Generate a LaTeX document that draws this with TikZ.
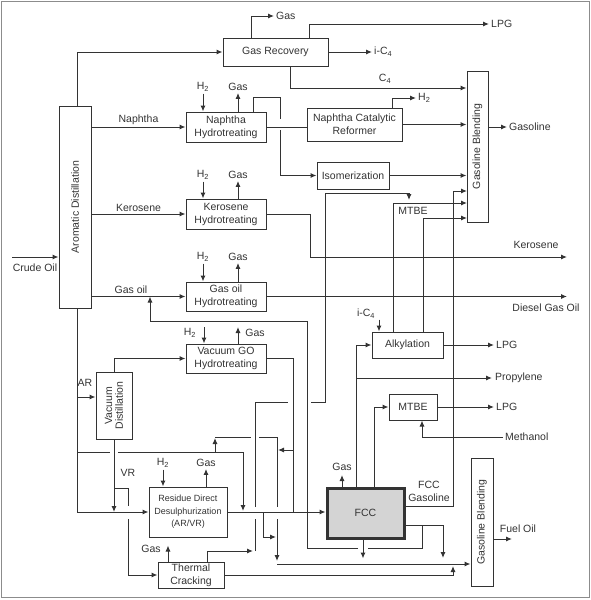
\documentclass[tikz,border=0pt]{standalone}
\usepackage{fontspec}
\setmainfont{Liberation Sans}
\usepackage{tikz}
\usetikzlibrary{arrows.meta}
\definecolor{ink}{HTML}{333333}
\definecolor{framegray}{HTML}{8C8C8C}
\definecolor{fccfill}{HTML}{D4D4D4}
\tikzset{
  unit/.style={draw=ink, line width=1pt, inner sep=1pt, align=center, text=ink},
  flow/.style={draw=ink, line width=1pt, -{Latex[length=6pt,width=5pt]}},
  pipe/.style={draw=ink, line width=1pt},
  lbl/.style={inner sep=2pt, text=ink}
}

\begin{document}
\begin{tikzpicture}[x=1pt, y=-1pt, font=\fontsize{10.5}{13}\selectfont]
        \useasboundingbox (0,0) rectangle (591,600);
        % Frame
        \draw [framegray, line width=1.4pt] (1.5,1.5) rectangle (589.5,597.5);
        % Units
        \node [unit, minimum width=105, minimum height=28] (gasrec) at (275.5,52) {Gas Recovery};
        \node [unit, minimum width=32, minimum height=202] (arom) at (75,207) {\rotatebox{90}{Aromatic Distillation}};
        \node [unit, minimum width=80, minimum height=30] (nht) at (226,127) {Naphtha\\Hydrotreating};
        \node [unit, minimum width=95, minimum height=33] (ref) at (354.5,124.5) {Naphtha Catalytic\\Reformer};
        \node [unit, minimum width=72, minimum height=27] (isom) at (353,175.5) {Isomerization};
        \node [unit, minimum width=21, minimum height=151] (gbtop) at (477.5,146.5) {\rotatebox{90}{Gasoline Blending}};
        \node [unit, minimum width=80, minimum height=30] (kht) at (226,214) {Kerosene\\Hydrotreating};
        \node [unit, minimum width=80, minimum height=29] (goht) at (226,296.5) {Gas oil\\Hydrotreating};
        \node [unit, minimum width=80, minimum height=29] (vgoht) at (226,358.5) {Vacuum GO\\Hydrotreating};
        \node [unit, minimum width=71, minimum height=26] (alky) at (407.5,345) {Alkylation};
        \node [unit, minimum width=48, minimum height=26] (mtbe) at (413,407) {MTBE};
        \node [unit, minimum width=36, minimum height=67] (vac) at (114,405.5) {\rotatebox{90}{\shortstack{Vacuum\\Distillation}}};
        \node [unit, minimum width=78, minimum height=50, font=\fontsize{9}{12.5}\selectfont] (rds) at (188,512) {Residue Direct\\Desulphurization\\(AR/VR)};
        \node [unit, minimum width=66, minimum height=26] (tc) at (191,575) {Thermal\\Cracking};
        \node [unit, line width=3pt, fill=fccfill, minimum width=77, minimum height=50] (fcc) at (365.5,513) {FCC};
        \node [unit, minimum width=22, minimum height=128] (gbbot) at (482,522) {\rotatebox{90}{Gasoline Blending}};
        % Crude oil
        \coordinate (crudein) at (12,257);
        \draw [flow] (crudein) -- (crudein -| arom.west);
        \node [lbl] (crude) at (35,268) {Crude Oil};
        % Gas recovery
        \draw [flow] ([xshift=2pt]arom.north) |- (gasrec.west);
        \node [lbl, anchor=west] (gastop) at (274,16) {Gas};
        \draw [flow] ([xshift=-24.5pt]gasrec.north) |- (gastop.west);
        \node [lbl, anchor=west] (lpgtop) at (489,24) {LPG};
        \draw [flow] ([xshift=33.5pt]gasrec.north) |- (lpgtop.west);
        \node [lbl, anchor=west] (ictop) at (372,52) {i-C\textsubscript{4}};
        \draw [flow] (gasrec.east) -- (ictop.west);
        \coordinate (cturn) at (290,88);
        \draw [flow] (gasrec.south -| cturn) -- (cturn) -- (cturn -| gbtop.west);
        \node [lbl] (cfour) at (385,79) {C\textsubscript{4}};
        % Naphtha
        \draw [flow] (arom.east |- nht.west) -- (nht.west) node [lbl, midway, above] {Naphtha};
        \draw [pipe] (nht.east) -- (nht.east -| ref.west);
        \coordinate (isoturn) at (280,97);
        \draw [pipe] ([xshift=27pt]nht.north) |- (isoturn) -- ++(0,22);
        \draw [flow] (isoturn) ++(0,33) |- (isom.west);
        \node [lbl, anchor=west] (hydref) at (416,98) {H\textsubscript{2}};
        \draw [flow] ([xshift=37.5pt]ref.north) |- (hydref.west);
        \draw [flow] (ref.east) -- (ref.east -| gbtop.west);
        \draw [flow] (isom.east) -- (isom.east -| gbtop.west);
        \node [lbl, anchor=west] (gasoline) at (507,127) {Gasoline};
        \draw [flow] (gbtop.east |- gasoline.west) -- (gasoline.west);
        % Hydrotreaters H2 and gas
        \node [lbl] (nhthyd) at (203,87) {H\textsubscript{2}};
        \draw [flow] (nhthyd.south) -- (nhthyd.south |- nht.north);
        \node [lbl] (nhtgas) at (238,87) {Gas};
        \draw [flow] (nhtgas.south |- nht.north) -- (nhtgas.south);
        \node [lbl] (khthyd) at (203,175) {H\textsubscript{2}};
        \draw [flow] (khthyd.south) -- (khthyd.south |- kht.north);
        \node [lbl] (khtgas) at (238,175) {Gas};
        \draw [flow] (khtgas.south |- kht.north) -- (khtgas.south);
        \node [lbl] (gohthyd) at (203,257) {H\textsubscript{2}};
        \draw [flow] (gohthyd.south) -- (gohthyd.south |- goht.north);
        \node [lbl] (gohtgas) at (238,257) {Gas};
        \draw [flow] (gohtgas.south |- goht.north) -- (gohtgas.south);
        \node [lbl] (vgohyd) at (190,333) {H\textsubscript{2}};
        \coordinate (vgohin) at (204,327);
        \draw [flow] (vgohin) -- (vgohin |- vgoht.north);
        \coordinate (vgogout) at (238,327);
        \draw [flow] (vgogout |- vgoht.north) -- (vgogout);
        \node [lbl] (vgogas) at (255,333) {Gas};
        % Kerosene
        \draw [flow] (arom.east |- kht.west) -- (kht.west) node [lbl, midway, above] {Kerosene};
        \coordinate (kerout) at (567,257);
        \draw [flow] (kht.east) -| (310,257) -- (kerout);
        \node [lbl] (kerlbl) at (536,245) {Kerosene};
        % Gas oil
        \draw [flow] (arom.east |- goht.west) -- (goht.west) node [lbl, pos=0.42, above] {Gas oil};
        \coordinate (dieselout) at (567,296.5);
        \draw [flow] (goht.east) -- (dieselout);
        \node [lbl] (diesel) at (546,308) {Diesel Gas Oil};
        % Light cycle oil back to gas oil
        \coordinate (goin) at (150,296.5);
        \draw [pipe] (422,525) |- (368,548);
        \draw [flow] (358,548) -| (307,321) -| (goin);
        % Vacuum distillation
        \coordinate (arvac) at (77,397);
        \draw [flow] ([xshift=2pt]arom.south) |- (rds.west);
        \draw [flow] (arvac) -- (arvac -| vac.west);
        \node [lbl] (arlbl) at (85,383) {AR};
        \draw [flow] (vac.north) |- (vgoht.west);
        \draw [flow] (vac.south) -- (vac.south |- rds.west);
        \node [lbl] (vrlbl) at (128,473) {VR};
        \draw [pipe] (114,488) -| (128,506);
        \draw [flow] (128,519) |- (tc.west);
        % AR bypass
        \draw [pipe] (77,452) -- (110,452);
        \draw [flow] (118,452) -| (243,511);
        \draw [flow] (215,452) -- (215,438);
        \draw [pipe] (215,437) -- (251,437);
        \draw [pipe] (259,437) -| (277,507);
        \draw [flow] (277,519) -- (277,561);
        % Residue desulphurization
        \node [lbl] (rdshyd) at (163,463) {H\textsubscript{2}};
        \draw [flow] (rdshyd.south) -- (rdshyd.south |- rds.north);
        \node [lbl] (rdsgas) at (206,463) {Gas};
        \draw [flow] (rdsgas.south |- rds.north) -- (rdsgas.south);
        \draw [flow] (rds.east) -- (rds.east -| fcc.west);
        \draw [flow] (263,512) |- (276,537);
        % Vacuum GO to FCC
        \draw [pipe] (vgoht.east) -| (293,512);
        \draw [flow] (293,450) -- (278,450);
        % Thermal cracking
        \node [lbl] (tcgas) at (151,549) {Gas};
        \draw [flow] ([xshift=-23pt]tc.north) -- ++(0,-16);
        \draw [flow] ([xshift=16pt]tc.north) |- (253,551);
        \draw [flow] (tc.east) -| (453,566);
        \draw [pipe] (255,551) -- (255,519);
        \draw [pipe] (255,507) |- (288,402);
        \draw [pipe] (311,402) -| (325,193) -- (409,193);
        \draw [flow] (409,193) -- (409,200);
        \node [lbl] (mtbelbl) at (413,211) {MTBE};
        % FCC
        \node [lbl] (fccgas) at (342,467) {Gas};
        \draw [flow] (342,488) -- (342,475);
        \draw [flow] ([xshift=-9.5pt]fcc.north) |- (alky.west);
        \coordinate (propout) at (492,378);
        \draw [flow] (356,378) -- (propout);
        \node [lbl, anchor=west] (propylene) at (493,378) {Propylene};
        \draw [flow] ([xshift=8.5pt]fcc.north) |- (mtbe.west);
        \draw [flow] ([yshift=7pt]fcc.east) -| (453,191) -- (467,191);
        \node [lbl, align=center] (fccgasoline) at (429,491) {FCC\\Gasoline};
        \draw [flow] ([xshift=-2.5pt]fcc.south) -- ++(0,19);
        \draw [flow] ([yshift=-12pt]fcc.east) -| (443,558);
        % Fuel oil
        \coordinate (fobus) at (277,564);
        \draw [flow] (fobus) -- (fobus -| gbbot.west);
        \coordinate (foout) at (512,539);
        \draw [flow] (gbbot.east |- foout) -- (foout);
        \node [lbl] (fueloil) at (518,529) {Fuel Oil};
        % Alkylation and MTBE
        \node [lbl] (alkyic) at (366,314) {i-C\textsubscript{4}};
        \draw [flow] ([xshift=-28.5pt]alky.north) ++(0,-12) -- ([xshift=-28.5pt]alky.north);
        \draw [flow] ([xshift=-14.5pt]alky.north) |- (467,203);
        \draw [flow] ([xshift=15.5pt]alky.north) |- (467,218);
        \node [lbl, anchor=west] (lpgalky) at (494,345) {LPG};
        \draw [flow] (alky.east) -- (lpgalky.west);
        \node [lbl, anchor=west] (lpgmtbe) at (494,407) {LPG};
        \draw [flow] (mtbe.east) -- (lpgmtbe.west);
        \node [lbl, anchor=west] (methanol) at (503,437) {Methanol};
        \draw [flow] (methanol.west) -| ([xshift=9pt]mtbe.south);
    \end{tikzpicture}
\end{document}
